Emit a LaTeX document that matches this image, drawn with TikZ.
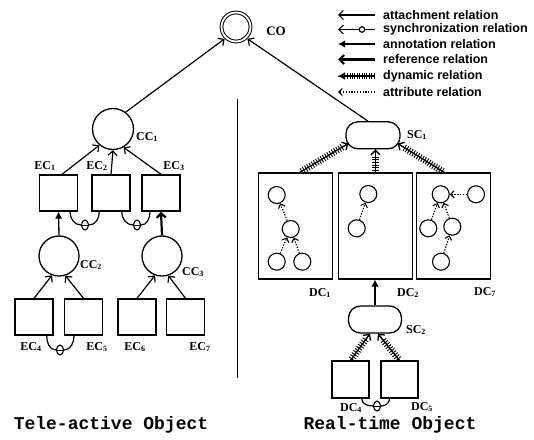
\documentclass[tikz,border=0pt]{standalone}
\usepackage{fontspec}
\setmainfont{Liberation Serif}
\newfontfamily\legendfont{Liberation Sans}
\newfontfamily\monofont{Liberation Mono}
\usetikzlibrary{arrows.meta,decorations.pathreplacing,shapes.geometric}

\begin{document}
\begin{tikzpicture}[x=1pt,y=1pt,
  box/.style={draw, line width=1.3pt, minimum width=38pt, minimum height=36pt, inner sep=0pt},
  bigbox/.style={draw, line width=1.3pt, minimum width=74pt, minimum height=106pt, inner sep=0pt},
  cls/.style={draw, circle, line width=1.3pt, minimum size=41pt, inner sep=0pt},
  small/.style={draw, circle, line width=1.1pt, minimum size=17pt, inner sep=0pt},
  seq/.style={draw, line width=1.3pt, rounded corners=12pt, minimum width=54pt, minimum height=27pt, inner sep=0pt},
  co/.style={draw, circle, line width=1pt, double, double distance=1.8pt, minimum size=29pt, inner sep=0pt},
  theta/.style={draw, ellipse, line width=1.1pt, minimum width=7pt, minimum height=10pt, inner sep=0pt,
    path picture={\draw[line width=0.9pt] (path picture bounding box.west) -- (path picture bounding box.east);}},
  syncdot/.style={draw, circle, fill=white, line width=1.2pt, minimum size=5.5pt, inner sep=0pt},
  lbl/.style={font=\fontsize{12}{14}\selectfont\bfseries, inner sep=0pt},
  legtxt/.style={font=\legendfont\fontsize{12.5}{14}\selectfont\bfseries, anchor=west, inner sep=0pt},
  title/.style={font=\monofont\fontsize{18}{20}\selectfont\bfseries, inner sep=0pt},
  attach/.style={line width=1.2pt, -{Straight Barb[length=4.5pt,width=9pt]}},
  annot/.style={line width=1.3pt, -{Latex[length=7pt,width=7.5pt]}},
  refer/.style={line width=2.2pt, -{Straight Barb[length=4.5pt,width=9pt]}},
  attr/.style={line width=1.1pt, dash pattern=on 1.3pt off 1.5pt, -{Straight Barb[length=3.5pt,width=7pt]}},
  dyn/.style={line width=1.3pt, -{Straight Barb[length=4.5pt,width=9pt]},
    postaction={draw, arrows=-, line width=0.9pt, decorate,
      decoration={ticks, segment length=2.6pt, amplitude=3.5pt, pre length=2pt, post length=7pt}}},
  dynleg/.style={line width=1.3pt, -{Latex[length=7pt,width=8pt]},
    postaction={draw, arrows=-, line width=0.9pt, decorate,
      decoration={ticks, segment length=2.4pt, amplitude=3pt, pre length=1pt, post length=8pt}}},
  sync/.style={line width=1.2pt}
]
\useasboundingbox (0,0) rectangle (534,-439);

% ---------- top complex object ----------
\node[co] (co) at (236,-27) {};
\node[lbl, font=\fontsize{13}{15}\selectfont\bfseries] (colbl) at (276,-31) {CO};

% ---------- legend ----------
\coordinate (a1s) at (375,-15);   \coordinate (a1e) at (338,-15);
\coordinate (a2s) at (375,-29.5); \coordinate (a2e) at (338,-29.5);
\coordinate (a3s) at (375,-44);   \coordinate (a3e) at (338,-44);
\coordinate (a4s) at (375,-59.5); \coordinate (a4e) at (338,-59.5);
\coordinate (a5s) at (375,-76);   \coordinate (a5e) at (338,-76);
\coordinate (a6s) at (375,-92);   \coordinate (a6e) at (338,-92);
\draw[attach] (a1s) -- (a1e);
\draw[attach] (a2s) -- (a2e);
\node[syncdot] (sd) at (362,-29.5) {};
\draw[annot] (a3s) -- (a3e);
\draw[refer] (a4s) -- (a4e);
\draw[dynleg] (a5s) -- (a5e);
\draw[attr] (a6s) -- (a6e);
\node[legtxt] (t1) at (383,-15) {attachment relation};
\node[legtxt] (t2) at (383,-29.5) {synchronization relation};
\node[legtxt] (t3) at (383,-44) {annotation relation};
\node[legtxt] (t4) at (383,-59.5) {reference relation};
\node[legtxt] (t5) at (383,-76) {dynamic relation};
\node[legtxt] (t6) at (383,-92) {attribute relation};

% ---------- divider ----------
\coordinate (dv1) at (237,-99);
\coordinate (dv2) at (237,-378);
\draw[line width=1pt] (dv1) -- (dv2);

% ---------- tele-active object ----------
\node[cls] (cc1) at (113,-129) {};
\node[lbl] (cc1l) at (147,-137) {CC\textsubscript{1}};
\node[box] (ec1) at (58.5,-193) {};
\node[box] (ec2) at (111,-193) {};
\node[box] (ec3) at (161,-193) {};
\node[lbl] (ec1l) at (45,-166) {EC\textsubscript{1}};
\node[lbl] (ec2l) at (97,-166) {EC\textsubscript{2}};
\node[lbl] (ec3l) at (174,-166) {EC\textsubscript{3}};

\node[cls, minimum size=40pt] (cc2) at (59,-256) {};
\node[cls, minimum size=40pt] (cc3) at (162,-256) {};
\node[lbl] (cc2l) at (91,-265) {CC\textsubscript{2}};
\node[lbl] (cc3l) at (193,-272) {CC\textsubscript{3}};

\node[box] (ec4) at (34,-317) {};
\node[box] (ec5) at (83.5,-317) {};
\node[box] (ec6) at (137,-317) {};
\node[box] (ec7) at (185.5,-317) {};
\node[lbl] (ec4l) at (31,-347) {EC\textsubscript{4}};
\node[lbl] (ec5l) at (97,-347) {EC\textsubscript{5}};
\node[lbl] (ec6l) at (135,-347) {EC\textsubscript{6}};
\node[lbl] (ec7l) at (200,-347) {EC\textsubscript{7}};

\draw[attach, shorten >=1.5pt] (cc1.53) -- (co.227);
\draw[attach] ([xshift=3.5pt]ec1.north) -- (cc1.230);
\draw[attach] (ec2.north) -- (cc1.south);
\draw[attach] (ec3.north) -- (cc1.300);
\draw[annot] (cc2.north) -- (ec1.south);
\draw[refer] (cc3.north) -- (ec3.south);
\draw[attach] (ec4.north) -- (cc2.250);
\draw[attach] (ec5.north) -- (cc2.288);
\draw[attach] (ec6.north) -- (cc3.250);
\draw[attach] (ec7.north) -- (cc3.288);

\node[theta] (s1) at (85,-225) {};
\node[theta] (s2) at (137,-225) {};
\node[theta] (s3) at (60,-350) {};
\draw[sync] ([xshift=11.5pt]ec1.south) to[out=-90,in=180] (s1.west);
\draw[sync] (s1.east) to[out=0,in=-90] ([xshift=-11.7pt]ec2.south);
\draw[sync] ([xshift=10.7pt]ec2.south) to[out=-90,in=180] (s2.west);
\draw[sync] (s2.east) to[out=0,in=-90] ([xshift=-11pt]ec3.south);
\draw[sync] ([xshift=12.7pt]ec4.south) to[out=-90,in=180] (s3.west);
\draw[sync] (s3.east) to[out=0,in=-90] ([xshift=-9.5pt]ec5.south);

\node[title] (tt1) at (111,-425) {Tele-active Object};

% ---------- real-time object ----------
\node[seq] (sc1) at (373,-135.3) {};
\node[lbl] (sc1l) at (417,-135) {SC\textsubscript{1}};
\draw[attach, shorten >=1.5pt] ([xshift=-5pt]sc1.north) -- (co.313);

\node[bigbox] (dc1) at (295.5,-225.9) {};
\node[bigbox] (dc2) at (375.5,-225.9) {};
\node[bigbox] (dc3) at (453.7,-225.9) {};
\node[lbl] (dc1l) at (320,-293) {DC\textsubscript{1}};
\node[lbl] (dc2l) at (408,-293) {DC\textsubscript{2}};
\node[lbl] (dc3l) at (485,-292) {DC\textsubscript{7}};

\draw[dyn] ([xshift=4.5pt]dc1.north) -- ([shift={(3pt,6pt)}]sc1.south west);
\draw[dyn] (dc2.north) -- (dc2.north |- sc1.south);
\draw[dyn] ([xshift=-9.7pt]dc3.north) -- ([shift={(-3pt,6pt)}]sc1.south east);

% inner objects of DC1
\node[small] (d1a) at (276.7,-195) {};
\node[small] (d1b) at (290.7,-229) {};
\node[small] (d1c) at (276.7,-261.7) {};
\node[small] (d1d) at (302.3,-261.7) {};
\draw[attr] (d1b) -- (d1a);
\draw[attr] (d1c) -- (d1b);
\draw[attr] (d1d) -- (d1b);
% inner objects of DC2
\node[small] (d2a) at (368.3,-194) {};
\node[small] (d2b) at (356.7,-228.3) {};
\draw[attr] (d2b) -- (d2a);
% inner objects of DC3
\node[small] (d3a) at (440.7,-194.3) {};
\node[small] (d3b) at (476,-194.3) {};
\node[small] (d3c) at (428.3,-228.3) {};
\node[small] (d3d) at (452.3,-226.7) {};
\node[small] (d3e) at (441,-261.7) {};
\draw[attr] (d3b) -- (d3a);
\draw[attr] (d3c) -- (d3a);
\draw[attr] (d3d) -- (d3a);
\draw[attr] (d3e) -- (d3d);

\node[seq, minimum width=53pt] (sc2) at (375,-319.5) {};
\node[lbl] (sc2l) at (416,-330) {SC\textsubscript{2}};
\draw[annot] (sc2.north) -- (sc2.north |- dc2.south);

\node[box, minimum width=37pt, minimum height=37pt] (dc4) at (350.5,-379.5) {};
\node[box, minimum width=37pt, minimum height=37pt] (dc5) at (399.5,-379.5) {};
\node[lbl] (dc4l) at (351,-408) {DC\textsubscript{4}};
\node[lbl] (dc5l) at (422,-407) {DC\textsubscript{5}};
\draw[dyn] (dc4.north) -- ([xshift=-5pt]sc2.south);
\draw[dyn] (dc5.north) -- ([xshift=3pt]sc2.south);

\node[theta] (s4) at (377,-406) {};
\draw[sync] ([xshift=11.2pt]dc4.south) to[out=-90,in=180] (s4.west);
\draw[sync] (s4.east) to[out=0,in=-90] ([xshift=-10pt]dc5.south);

\node[title] (tt2) at (390,-425) {Real-time Object};
\end{tikzpicture}
\end{document}
